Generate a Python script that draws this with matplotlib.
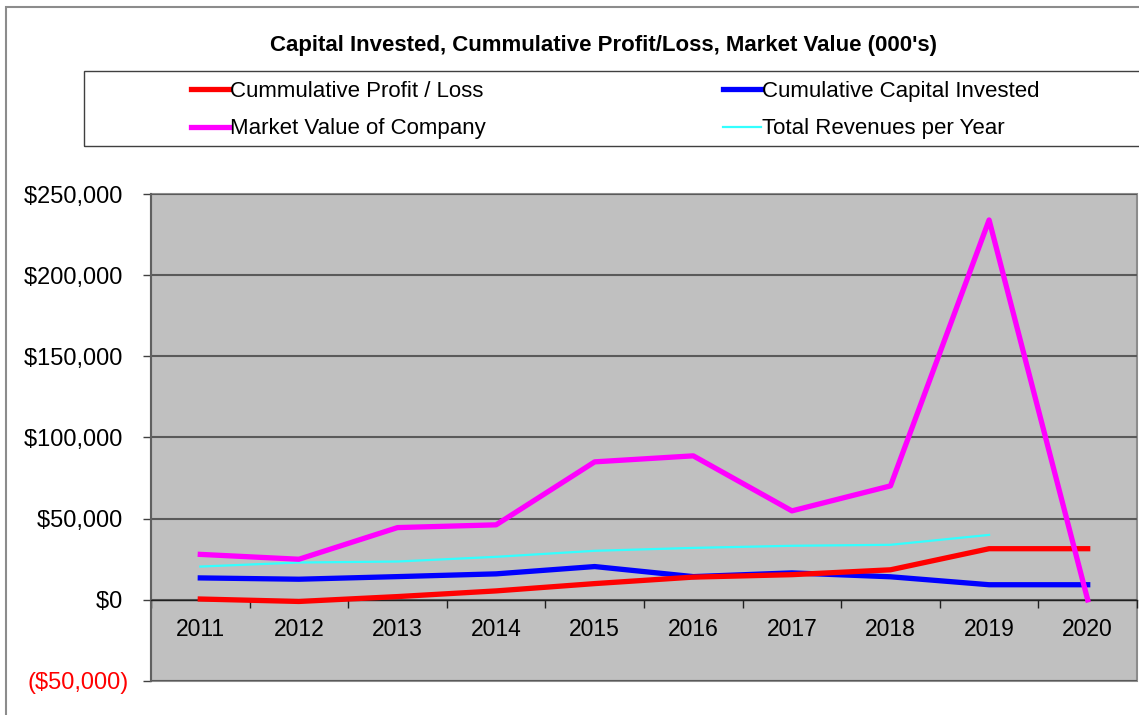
import numpy as np
import matplotlib
matplotlib.use("Agg")
import matplotlib.pyplot as plt
from matplotlib.patches import Rectangle

plt.rcParams['font.family'] = ['Liberation Sans', 'DejaVu Sans']

years = ["2011", "2012", "2013", "2014", "2015", "2016", "2017", "2018", "2019", "2020"]
profitLoss = [500, -1000, 2000, 5500, 10000, 14000, 15500, 18500, 31500, 31500]
capitalInvested = [13500, 12700, 14300, 16000, 20500, 14300, 16600, 14200, 9300, 9300]
marketValue = [28000, 25000, 44500, 46200, 85000, 88700, 54800, 70200, 234000, 0]
revenues = [20500, 23000, 23600, 26500, 30200, 32000, 33300, 33900, 40000, np.nan]

yTicks = [-50000, 0, 50000, 100000, 150000, 200000, 250000]

W, H = 1139, 715
fig = plt.figure(figsize=(W / 100, H / 100), dpi=100)

# outer chart frame (runs off the right/bottom of the picture)
fig.patches.append(Rectangle((6 / W, -0.1), 1.2, 1 - 7 / H + 0.1, transform=fig.transFigure,
                             fill=False, edgecolor='#8c8c8c', linewidth=1.5, zorder=0))
# legend box
fig.patches.append(Rectangle((84 / W, 1 - 146 / H), 1.2, 75 / H, transform=fig.transFigure,
                             fill=False, edgecolor='#404040', linewidth=1.0, zorder=0))

fig.text(603 / W, 1 - 46 / H, "Capital Invested, Cummulative Profit/Loss, Market Value (000's)",
         ha='center', va='center', fontsize=16, fontweight='bold')

ax = fig.add_axes([151 / W, 1 - 681 / H, (1137 - 151) / W, (681 - 194) / H])
ax.set_facecolor('#c0c0c0')
ax.patch.set_edgecolor('#8c8c8c')
ax.patch.set_linewidth(1.5)

x = np.arange(len(years))
lRed, = ax.plot(x, profitLoss, color='#ff0000', lw=3.8, label="Cummulative Profit / Loss", zorder=5)
lBlue, = ax.plot(x, capitalInvested, color='#0000ff', lw=3.8, label="Cumulative Capital Invested", zorder=4)
lMag, = ax.plot(x, marketValue, color='#ff00ff', lw=3.8, label="Market Value of Company", zorder=6)
lCyan, = ax.plot(x, revenues, color='#33ffff', lw=1.6, label="Total Revenues per Year", zorder=3)

ax.set_xlim(-0.5, len(years) - 0.5)
ax.set_ylim(-50000, 250000)
ax.set_yticks(yTicks)
ax.set_yticklabels([f"${v:,.0f} " if v >= 0 else f"(${-v:,.0f})" for v in yTicks], fontsize=17)
for lbl, v in zip(ax.get_yticklabels(), yTicks):
    if v < 0:
        lbl.set_color('#ff0000')
ax.tick_params(axis='y', direction='out', length=6, width=1, color='#404040', pad=10)

# category axis crossing at zero, ticks between categories
ax.spines['bottom'].set_position(('data', 0))
ax.spines['bottom'].set_color('#202020')
ax.spines['bottom'].set_linewidth(1.0)
ax.spines['top'].set_visible(False)
ax.spines['right'].set_visible(False)
ax.spines['left'].set_color('#606060')
ax.spines['left'].set_linewidth(1.5)
ax.set_xticks(np.arange(-0.5, len(years), 1.0))
ax.set_xticklabels([])
ax.set_xticks(x, minor=True)
ax.set_xticklabels(years, minor=True, fontsize=16.5)
ax.tick_params(axis='x', which='major', direction='out', length=6, width=1, color='#202020')
ax.tick_params(axis='x', which='minor', length=0, pad=13)

ax.yaxis.grid(True, color='#5a5a5a', linewidth=1.5)
ax.set_axisbelow(True)

fig.legend(handles=[lRed, lMag, lBlue, lCyan], loc='upper left',
           bbox_to_anchor=(191 / W, 1 - 81 / H), ncol=2, frameon=False, fontsize=16,
           handlelength=1.71, handletextpad=0.05, columnspacing=10.65, labelspacing=0.74,
           borderpad=0, borderaxespad=0)

fig.savefig("out.png", dpi=100)
